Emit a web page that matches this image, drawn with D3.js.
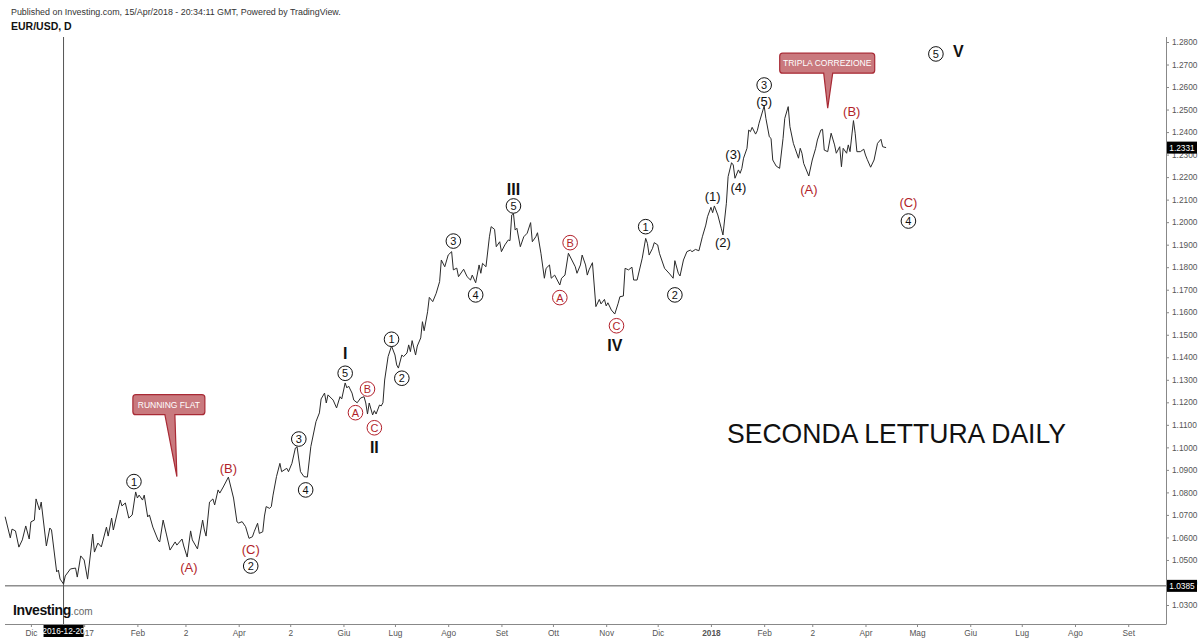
<!DOCTYPE html>
<html><head><meta charset="utf-8">
<script src="https://cdn.jsdelivr.net/npm/d3@7"></script>
<style>
html,body{margin:0;padding:0;background:#fff;}
svg{display:block;font-family:"Liberation Sans",Arial,sans-serif;}
</style></head>
<body>
<svg id="chart" width="1200" height="640"></svg>
<script>
// ---------- DATA ----------
const dates = ["2016-11-16","2016-11-19","2016-11-20","2016-11-22","2016-11-24","2016-11-26","2016-11-28","2016-11-30","2016-12-01","2016-12-03","2016-12-04","2016-12-06","2016-12-07","2016-12-10","2016-12-12","2016-12-13","2016-12-16","2016-12-17","2016-12-18","2016-12-20","2016-12-21","2016-12-24","2016-12-27","2016-12-28","2016-12-30","2017-01-01","2017-01-03","2017-01-06","2017-01-07","2017-01-09","2017-01-11","2017-01-14","2017-01-15","2017-01-17","2017-01-18","2017-01-22","2017-01-23","2017-01-25","2017-01-27","2017-01-29","2017-01-31","2017-02-01","2017-02-02","2017-02-04","2017-02-05","2017-02-07","2017-02-08","2017-02-10","2017-02-13","2017-02-14","2017-02-16","2017-02-18","2017-02-20","2017-02-23","2017-02-24","2017-02-27","2017-02-28","2017-03-02","2017-03-04","2017-03-05","2017-03-08","2017-03-11","2017-03-12","2017-03-13","2017-03-15","2017-03-17","2017-03-18","2017-03-20","2017-03-21","2017-03-23","2017-03-26","2017-03-29","2017-03-31","2017-04-01","2017-04-03","2017-04-05","2017-04-07","2017-04-09","2017-04-10","2017-04-12","2017-04-13","2017-04-15","2017-04-16","2017-04-17","2017-04-19","2017-04-20","2017-04-21","2017-04-23","2017-04-25","2017-04-26","2017-04-29","2017-04-30","2017-05-02","2017-05-04","2017-05-05","2017-05-07","2017-05-09","2017-05-11","2017-05-13","2017-05-16","2017-05-18","2017-05-19","2017-05-21","2017-05-22","2017-05-23","2017-05-26","2017-05-28","2017-05-30","2017-05-31","2017-06-02","2017-06-03","2017-06-04","2017-06-06","2017-06-07","2017-06-09","2017-06-11","2017-06-13","2017-06-14","2017-06-15","2017-06-16","2017-06-18","2017-06-19","2017-06-20","2017-06-22","2017-06-23","2017-06-24","2017-06-25","2017-06-27","2017-06-29","2017-07-01","2017-07-02","2017-07-03","2017-07-05","2017-07-06","2017-07-08","2017-07-09","2017-07-10","2017-07-11","2017-07-13","2017-07-14","2017-07-16","2017-07-17","2017-07-18","2017-07-20","2017-07-21","2017-07-23","2017-07-25","2017-07-27","2017-07-28","2017-07-30","2017-08-01","2017-08-03","2017-08-04","2017-08-06","2017-08-07","2017-08-10","2017-08-12","2017-08-14","2017-08-15","2017-08-17","2017-08-19","2017-08-20","2017-08-21","2017-08-23","2017-08-25","2017-08-26","2017-08-28","2017-08-29","2017-08-31","2017-09-01","2017-09-03","2017-09-05","2017-09-06","2017-09-07","2017-09-08","2017-09-09","2017-09-10","2017-09-12","2017-09-14","2017-09-16","2017-09-18","2017-09-19","2017-09-21","2017-09-22","2017-09-24","2017-09-26","2017-09-27","2017-09-29","2017-09-30","2017-10-02","2017-10-05","2017-10-06","2017-10-08","2017-10-10","2017-10-12","2017-10-14","2017-10-15","2017-10-17","2017-10-18","2017-10-20","2017-10-21","2017-10-22","2017-10-24","2017-10-26","2017-10-28","2017-10-29","2017-10-31","2017-11-01","2017-11-02","2017-11-04","2017-11-06","2017-11-08","2017-11-09","2017-11-11","2017-11-12","2017-11-14","2017-11-16","2017-11-17","2017-11-19","2017-11-22","2017-11-24","2017-11-25","2017-11-26","2017-11-28","2017-11-29","2017-12-01","2017-12-02","2017-12-05","2017-12-08","2017-12-10","2017-12-11","2017-12-13","2017-12-14","2017-12-16","2017-12-18","2017-12-20","2017-12-21","2017-12-23","2017-12-25","2017-12-27","2017-12-29","2017-12-30","2018-01-01","2018-01-02","2018-01-03","2018-01-05","2018-01-07","2018-01-08","2018-01-10","2018-01-11","2018-01-13","2018-01-14","2018-01-15","2018-01-17","2018-01-18","2018-01-19","2018-01-20","2018-01-22","2018-01-23","2018-01-24","2018-01-25","2018-01-27","2018-01-28","2018-01-29","2018-02-01","2018-02-02","2018-02-04","2018-02-05","2018-02-06","2018-02-08","2018-02-10","2018-02-12","2018-02-13","2018-02-15","2018-02-16","2018-02-18","2018-02-19","2018-02-21","2018-02-22","2018-02-23","2018-02-24","2018-02-27","2018-03-01","2018-03-03","2018-03-04","2018-03-06","2018-03-07","2018-03-08","2018-03-10","2018-03-12","2018-03-14","2018-03-15","2018-03-17","2018-03-18","2018-03-19","2018-03-21","2018-03-22","2018-03-23","2018-03-25","2018-03-26","2018-03-27","2018-03-29","2018-03-31","2018-04-01","2018-04-02","2018-04-04","2018-04-06","2018-04-08","2018-04-10","2018-04-11","2018-04-13"];
const closes = [1.0692,1.0598,1.0637,1.0629,1.0557,1.0589,1.0651,1.0593,1.0669,1.0677,1.0771,1.0722,1.0757,1.0562,1.0642,1.0633,1.0447,1.0455,1.0415,1.0393,1.0429,1.0460,1.0464,1.0424,1.0518,1.0500,1.0415,1.0615,1.0535,1.0575,1.0558,1.0646,1.0606,1.0686,1.0633,1.0766,1.0740,1.0753,1.0686,1.0700,1.0802,1.0775,1.0788,1.0766,1.0788,1.0691,1.0700,1.0646,1.0589,1.0580,1.0677,1.0611,1.0544,1.0580,1.0566,1.0593,1.0562,1.0513,1.0629,1.0589,1.0549,1.0677,1.0633,1.0606,1.0757,1.0771,1.0744,1.0811,1.0797,1.0824,1.0868,1.0775,1.0669,1.0664,1.0670,1.0648,1.0596,1.0603,1.0625,1.0663,1.0618,1.0625,1.0695,1.0737,1.0729,1.0737,1.0788,1.0870,1.0929,1.0892,1.0907,1.0892,1.0929,1.0997,1.1002,1.0892,1.0870,1.0868,1.1003,1.1114,1.1153,1.1215,1.1241,1.1197,1.1233,1.1210,1.1175,1.1225,1.1215,1.1286,1.1264,1.1272,1.1241,1.1210,1.1198,1.1219,1.1225,1.1197,1.1148,1.1197,1.1144,1.1163,1.1148,1.1188,1.1184,1.1198,1.1299,1.1403,1.1450,1.1410,1.1366,1.1352,1.1410,1.1403,1.1419,1.1455,1.1425,1.1474,1.1410,1.1450,1.1486,1.1558,1.1518,1.1602,1.1666,1.1647,1.1684,1.1736,1.1832,1.1802,1.1854,1.1869,1.1788,1.1796,1.1758,1.1791,1.1758,1.1743,1.1765,1.1731,1.1810,1.1773,1.1817,1.1802,1.1935,1.1980,1.1968,1.1891,1.1913,1.1869,1.1899,1.1921,1.1918,1.2032,1.2039,1.1965,1.1973,1.1891,1.1935,1.1951,1.1998,1.1913,1.1935,1.1953,1.1862,1.1751,1.1795,1.1810,1.1751,1.1765,1.1721,1.1751,1.1765,1.1862,1.1832,1.1802,1.1773,1.1810,1.1854,1.1810,1.1765,1.1788,1.1820,1.1625,1.1657,1.1637,1.1657,1.1628,1.1642,1.1610,1.1592,1.1640,1.1669,1.1672,1.1795,1.1788,1.1800,1.1743,1.1743,1.1840,1.1928,1.1906,1.1854,1.1884,1.1909,1.1899,1.1862,1.1795,1.1770,1.1751,1.1829,1.1773,1.1761,1.1832,1.1869,1.1876,1.1869,1.1879,1.1873,1.1935,1.1987,1.2024,1.2066,1.2042,1.2072,1.2032,1.1973,1.1943,1.2084,1.2202,1.2264,1.2254,1.2195,1.2232,1.2217,1.2239,1.2284,1.2328,1.2409,1.2402,1.2421,1.2391,1.2406,1.2439,1.2516,1.2461,1.2379,1.2372,1.2276,1.2249,1.2239,1.2372,1.2461,1.2513,1.2424,1.2350,1.2328,1.2284,1.2328,1.2306,1.2261,1.2205,1.2276,1.2328,1.2365,1.2409,1.2412,1.2320,1.2313,1.2395,1.2343,1.2306,1.2335,1.2246,1.2328,1.2306,1.2343,1.2313,1.2451,1.2395,1.2313,1.2313,1.2324,1.2298,1.2279,1.2244,1.2276,1.2350,1.2368,1.2335,1.2331];

const yTicks = [1.03,1.04,1.05,1.06,1.07,1.08,1.09,1.10,1.11,1.12,1.13,1.14,1.15,1.16,1.17,1.18,1.19,1.20,1.21,1.22,1.23,1.24,1.25,1.26,1.27,1.28];
const xTickDates = ["2016-12-01","2017-01-01","2017-02-01","2017-03-01","2017-04-01","2017-05-01","2017-06-01","2017-07-01","2017-08-01","2017-09-01","2017-10-01","2017-11-01","2017-12-01","2018-01-01","2018-02-01","2018-03-01","2018-04-01","2018-05-01","2018-06-01","2018-07-01","2018-08-01","2018-09-01"];
const xTickLabels = ["Dic","2017","Feb","2","Apr","2","Giu","Lug","Ago","Set","Ott","Nov","Dic","2018","Feb","2","Apr","Mag","Giu","Lug","Ago","Set"];

const lastClose = 1.2331;
const markLevel = 1.0385;
const markDate = "2016-12-20";

// wave labels: text, anchor date, anchor price
const circledBlack = [
  ["1","2017-01-30",1.0848],["2","2017-04-08",1.0473],["3","2017-05-06",1.1037],["4","2017-05-10",1.0811],["5","2017-06-02",1.1329],
  ["1","2017-06-29",1.1480],["2","2017-07-05",1.1307],["3","2017-08-04",1.1916],["4","2017-08-17",1.1677],["5","2017-09-08",1.2072],
  ["1","2017-11-24",1.1980],["2","2017-12-11",1.1677],["3","2018-02-01",1.2609],["4","2018-04-26",1.2005],["5","2018-05-12",1.2747]
];
const circledRed = [
  ["A","2017-06-08",1.1154],["B","2017-06-15",1.1259],["C","2017-06-19",1.1087],
  ["A","2017-10-05",1.1665],["B","2017-10-11",1.1909],["C","2017-11-07",1.1540]
];
const romanLabels = [["I","2017-06-02",1.1418],["II","2017-06-19",1.1000],["III","2017-09-08",1.2147],["IV","2017-11-06",1.1455],["V","2018-05-25",1.2760]];
const parenBlack = [["(1)","2018-01-02",1.2113],["(2)","2018-01-08",1.1912],["(3)","2018-01-14",1.2303],["(4)","2018-01-17",1.2155],["(5)","2018-02-01",1.2535]];
const parenRed = [["(A)","2017-03-03",1.0466],["(B)","2017-03-26",1.0907],["(C)","2017-04-08",1.0549],["(A)","2018-02-27",1.2146],["(B)","2018-03-24",1.2494],["(C)","2018-04-26",1.2088]];
const callouts = [["RUNNING FLAT","2017-02-24",1.0870],["TRIPLA CORREZIONE","2018-03-10",1.2506]];
const title = "SECONDA LETTURA DAILY";

// ---------- DRAW ----------
const parse = d3.timeParse("%Y-%m-%d");
const svg = d3.select("#chart");
const plotR = 1166, axisY = 624;
const x = d3.scaleTime().domain([parse("2016-11-13"), parse("2018-09-23")]).range([0, plotR]);
const y = d3.scaleLinear().domain([1.03, 1.28]).range([605, 42]);
const RED = "#b21f2a", AX = "#555";

// header
svg.append("text").attr("x",11).attr("y",15).attr("font-size",8.9).attr("fill","#333")
  .text("Published on Investing.com, 15/Apr/2018 - 20:34:11 GMT, Powered by TradingView.");
svg.append("text").attr("x",11).attr("y",30).attr("font-size",10.5).attr("font-weight","bold").attr("fill","#111")
  .text("EUR/USD, D");

// crosshair
svg.append("line").attr("x1",x(parse(markDate))).attr("x2",x(parse(markDate))).attr("y1",37).attr("y2",axisY)
  .attr("stroke","#555").attr("stroke-width",1);
svg.append("line").attr("x1",5).attr("x2",plotR).attr("y1",y(markLevel)).attr("y2",y(markLevel))
  .attr("stroke","#555").attr("stroke-width",1);

// price line
const series = dates.map((d,i)=>({date:parse(d), v:closes[i]}));
svg.append("path").datum(series)
  .attr("fill","none").attr("stroke","#2a2a2a").attr("stroke-width",1).attr("stroke-linejoin","round")
  .attr("d", d3.line().x(d=>x(d.date)).y(d=>y(d.v)));

// right axis
const yAxis = d3.axisRight(y).tickValues(yTicks).tickFormat(d3.format(".4f")).tickSize(3).tickPadding(3);
const gy = svg.append("g").attr("transform",`translate(${plotR},0)`).call(yAxis);
gy.select(".domain").remove();
gy.selectAll("line").attr("stroke","#888");
gy.selectAll("text").attr("font-size",8.3).attr("fill",AX).attr("font-family","Liberation Sans, Arial, sans-serif");
svg.append("line").attr("x1",plotR+0.5).attr("x2",plotR+0.5).attr("y1",37).attr("y2",axisY).attr("stroke","#888");

// bottom axis
const xAxis = d3.axisBottom(x).tickValues(xTickDates.map(parse)).tickFormat((d,i)=>xTickLabels[i]).tickSize(3).tickPadding(3);
const gx = svg.append("g").attr("transform",`translate(0,${axisY})`).call(xAxis);
gx.select(".domain").remove();
gx.selectAll("line").attr("stroke","#888");
gx.selectAll("text").attr("font-size",8.3).attr("fill",AX).attr("font-family","Liberation Sans, Arial, sans-serif")
  .attr("font-weight",(d,i)=>xTickLabels[i]==="2018"?"bold":"normal");
svg.append("line").attr("x1",5).attr("x2",plotR+0.5).attr("y1",axisY+0.5).attr("y2",axisY+0.5).attr("stroke","#888");

// crosshair labels
function blackTag(cx, cy, txt, w, anchor){
  const g = svg.append("g");
  const x0 = anchor==="start" ? cx : cx - w/2;
  g.append("rect").attr("x",x0).attr("y",cy-6).attr("width",w).attr("height",12).attr("fill","#000");
  g.append("text").attr("x",x0+w/2).attr("y",cy+3).attr("text-anchor","middle").attr("font-size",8.3)
    .attr("fill","#fff").text(txt);
}
blackTag(plotR+1, y(lastClose), d3.format(".4f")(lastClose), 30, "start");
blackTag(plotR+1, y(markLevel), d3.format(".4f")(markLevel), 30, "start");
blackTag(x(parse(markDate)), 631, markDate, 40, "middle");

// logo
const logo = svg.append("text").attr("x",13).attr("y",615);
logo.append("tspan").attr("font-size",14).attr("font-weight","bold").attr("fill","#111").attr("letter-spacing",-0.4).text("Investing");
logo.append("tspan").attr("font-size",10).attr("fill","#666").text(".com");

// callouts
function callout(txt, dstr, p, w, dx, dy, baseL, baseR){
  const tx = x(parse(dstr)), ty = y(p);
  const x0 = tx + dx, y0 = ty + dy, h = 20, r = 3;
  const b1 = tx + baseL, b2 = tx + baseR;
  const path = `M${x0+r},${y0} H${x0+w-r} Q${x0+w},${y0} ${x0+w},${y0+r} V${y0+h-r} Q${x0+w},${y0+h} ${x0+w-r},${y0+h}
    H${b2} L${tx},${ty} L${b1},${y0+h} H${x0+r} Q${x0},${y0+h} ${x0},${y0+h-r} V${y0+r} Q${x0},${y0} ${x0+r},${y0} Z`;
  svg.append("path").attr("d",path).attr("fill","#c9797e").attr("stroke","#a82a35").attr("stroke-width",1.2);
  svg.append("text").attr("x",x0+w/2).attr("y",y0+h/2+3).attr("text-anchor","middle")
    .attr("font-size",8.5).attr("fill","#fff").text(txt);
}
callout(callouts[0][0], callouts[0][1], callouts[0][2], 72, -44, -82, -12, -2);
callout(callouts[1][0], callouts[1][1], callouts[1][2], 95, -48, -55, -4, 5);

// circled labels
function circled(list, color){
  list.forEach(([t,d,p])=>{
    const cx = x(parse(d)), cy = y(p);
    svg.append("circle").attr("cx",cx).attr("cy",cy).attr("r",7.3).attr("fill","#fff").attr("stroke",color).attr("stroke-width",1);
    svg.append("text").attr("x",cx).attr("y",cy+4).attr("text-anchor","middle").attr("font-size",11).attr("fill",color).text(t);
  });
}
circled(circledBlack, "#111");
circled(circledRed, RED);

function plain(list, color, size, weight){
  list.forEach(([t,d,p])=>{
    svg.append("text").attr("x",x(parse(d))).attr("y",y(p)+size*0.36).attr("text-anchor","middle")
      .attr("font-size",size).attr("font-weight",weight).attr("fill",color).text(t);
  });
}
plain(romanLabels, "#111", 16, "bold");
plain(parenBlack, "#111", 13, "normal");
plain(parenRed, RED, 13, "normal");

// big title
svg.append("text").attr("x",727).attr("y",443).attr("font-size",28).attr("fill","#111")
  .attr("textLength",339).attr("lengthAdjust","spacingAndGlyphs").text(title);
</script>
</body></html>
